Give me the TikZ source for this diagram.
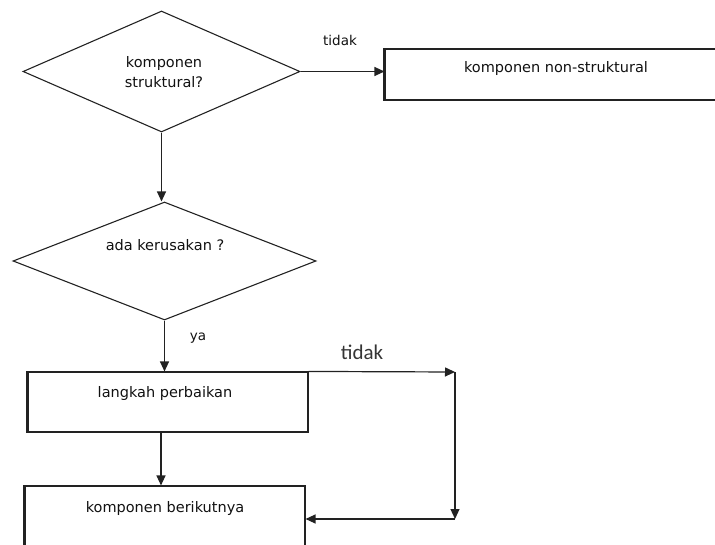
\documentclass[tikz,border=0pt]{standalone}
\usepackage{fontspec}
\setmainfont{DejaVu Sans}
\newfontfamily\lightfont{Carlito}
\usetikzlibrary{shapes.geometric,arrows.meta}
\definecolor{ln}{HTML}{222222}
\definecolor{tx}{HTML}{111111}
\tikzset{
  flow/.style={draw=ln,line width=1.2pt,-{Triangle[length=10pt,width=9pt]}},
  decision/.style={diamond,draw=ln,line width=1.1pt,inner sep=0pt},
  procbox/.style={rectangle,draw=ln,line width=1.1pt,inner sep=0pt},
  txt/.style={text=tx,font=\fontsize{14.5}{20}\selectfont,align=center,inner sep=0pt},
  lbl/.style={text=tx,font=\fontsize{13.5}{16}\selectfont,inner sep=0pt},
}
\begin{document}
\begin{tikzpicture}[x=1pt,y=-1pt]
\useasboundingbox (0,0) rectangle (715,545);
\clip (0,0) rectangle (715,545);
% decision 1
\node[decision,minimum width=277pt,minimum height=121pt] (d1) at (161.5,71.5) {};
\node[txt] (d1t) at (164,72) {komponen\\struktural?};
% box 1 (runs off the right edge)
\node[procbox,minimum width=345pt,minimum height=51pt] (b1) at (557.5,74.5) {};
\draw[line width=2.2pt,ln] (b1.north west) -- (b1.south west);
\node[txt] (b1t) at (556,69) {komponen non-struktural};
% decision 2
\node[decision,minimum width=303pt,minimum height=118pt] (d2) at (164.5,261) {};
\node[txt] (d2t) at (165,245) {ada kerusakan ?};
% box 2
\node[procbox,minimum width=280pt,minimum height=60pt] (b2) at (168,402) {};
\draw[line width=2.2pt,ln] (b2.north west) -- (b2.south west);
\node[txt] (b2t) at (165,393) {langkah perbaikan};
% box 3 (runs off the bottom edge)
\node[procbox,minimum width=280pt,minimum height=80pt] (b3) at (165,526) {};
\draw[line width=2.2pt,ln] (b3.north west) -- (b3.south west);
\node[txt] (b3t) at (165,508) {komponen berikutnya};
% corner points of the loop
\coordinate (c1) at (455,372);
\coordinate (c2) at (455,519);
\coordinate (s2) at (161,432);
% connectors
\draw[flow] (d1.east) -- (d1.east -| b1.west);
\draw[flow] (d1.south) -- (d1.south |- d2.north);
\draw[flow] (d2.south) -- (d2.south |- b2.north);
\draw[flow] (s2) -- (s2 |- b3.north);
\draw[flow] (b2.north east) -- (c1);
\draw[flow] (c1) -- (c2);
\draw[flow] (c2) -- (c2 -| b3.east);
% labels
\node[lbl] (l1) at (340,40) {tidak};
\node[lbl] (l2) at (198,338) {ya};
\node[text=tx!85,font=\lightfont\fontsize{21}{24}\selectfont,inner sep=0pt] (l3) at (362,352) {tidak};
\end{tikzpicture}
\end{document}
